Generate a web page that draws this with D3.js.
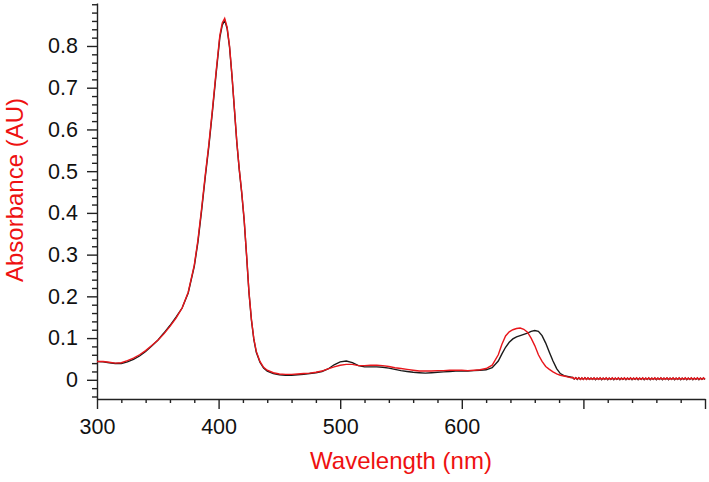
<!DOCTYPE html>
<html>
<head>
<meta charset="utf-8">
<script src="https://cdn.jsdelivr.net/npm/d3@7"></script>
<style>
  body { margin: 0; background: #fff; }
  #chart { width: 709px; height: 482px; }
  text { font-family: Arial, "Liberation Sans", sans-serif; }
</style>
</head>
<body>
<div id="chart"></div>
<script>
// wavelengths (nm) shared by both spectra
var wavelengths = [300,305,310,315,320,325,330,335,340,345,350,355,360,365,370,375,380,383,386,389,
  392,395,398,401,403,405,407,409,411,413,415,417,419,421,423,425,427,429,431,434,
  437,440,445,450,455,460,465,470,475,480,485,490,495,500,505,510,515,520,525,530,
  535,540,545,550,555,560,565,570,575,580,585,590,595,600,605,610,615,620,625,630,
  633,636,639,642,645,648,651,654,657,660,663,666,669,672,675,678,681,684,687,690,
  691.25,692.5,693.75,695,696.25,697.5,698.75,700,701.25,702.5,703.75,705,706.25,707.5,708.75,710,
  711.25,712.5,713.75,715,716.25,717.5,718.75,720,721.25,722.5,723.75,725,726.25,727.5,728.75,730,
  731.25,732.5,733.75,735,736.25,737.5,738.75,740,741.25,742.5,743.75,745,746.25,747.5,748.75,750,
  751.25,752.5,753.75,755,756.25,757.5,758.75,760,761.25,762.5,763.75,765,766.25,767.5,768.75,770,
  771.25,772.5,773.75,775,776.25,777.5,778.75,780,781.25,782.5,783.75,785,786.25,787.5,788.75,790,
  791.25,792.5,793.75,795,796.25,797.5,798.75,800];

// black spectrum
var blackAbs = [0.044,0.043,0.041,0.039,0.039,0.043,0.049,0.057,0.068,0.081,0.095,0.112,0.130,0.150,0.172,0.208,0.272,0.330,0.405,0.485,
  0.560,0.645,0.735,0.820,0.850,0.862,0.842,0.797,0.728,0.648,0.568,0.503,0.448,0.383,0.298,0.208,0.143,0.096,0.066,0.042,
  0.028,0.021,0.015,0.012,0.011,0.011,0.012,0.013,0.015,0.017,0.020,0.026,0.036,0.043,0.045,0.041,0.034,0.031,0.031,0.031,
  0.030,0.028,0.025,0.022,0.020,0.018,0.017,0.016,0.017,0.018,0.019,0.020,0.021,0.021,0.021,0.022,0.023,0.024,0.029,0.045,
  0.062,0.078,0.090,0.098,0.103,0.106,0.109,0.112,0.116,0.118,0.116,0.106,0.088,0.066,0.045,0.027,0.015,0.010,0.008,0.006,
  0.005,0.002,0.005,0.001,0.005,0.001,0.004,0.001,0.005,0.001,0.004,0.001,0.004,0.001,0.004,0.000,
  0.004,0.001,0.004,0.000,0.004,0.001,0.004,0.000,0.004,0.001,0.004,0.000,0.004,0.001,0.004,0.000,
  0.004,0.001,0.004,0.000,0.004,0.001,0.004,0.000,0.004,0.001,0.004,0.000,0.004,0.001,0.004,0.000,
  0.004,0.001,0.004,0.000,0.004,0.001,0.004,0.000,0.004,0.001,0.004,0.000,0.004,0.001,0.004,0.000,
  0.004,0.001,0.004,0.000,0.004,0.001,0.004,0.000,0.004,0.001,0.004,0.000,0.004,0.001,0.004,0.000,
  0.004,0.001,0.004,0.000,0.004,0.001,0.004,0.001];

// red spectrum
var redAbs = [0.044,0.044,0.042,0.040,0.041,0.046,0.052,0.060,0.070,0.082,0.095,0.110,0.128,0.148,0.172,0.210,0.275,0.335,0.410,0.490,
  0.565,0.650,0.740,0.825,0.855,0.866,0.845,0.800,0.730,0.650,0.570,0.505,0.450,0.385,0.300,0.210,0.145,0.098,0.068,0.044,
  0.030,0.023,0.017,0.014,0.013,0.013,0.014,0.015,0.016,0.018,0.021,0.026,0.031,0.035,0.037,0.037,0.034,0.034,0.035,0.035,
  0.034,0.032,0.029,0.027,0.025,0.023,0.021,0.021,0.021,0.022,0.022,0.023,0.023,0.023,0.022,0.023,0.024,0.027,0.035,0.060,
  0.085,0.105,0.115,0.120,0.123,0.124,0.121,0.114,0.100,0.082,0.060,0.044,0.032,0.025,0.019,0.014,0.011,0.009,0.007,0.005,
  0.006,0.002,0.005,0.002,0.005,0.001,0.005,0.001,0.005,0.001,0.005,0.001,0.004,0.001,0.005,0.001,
  0.004,0.001,0.005,0.001,0.004,0.001,0.005,0.001,0.004,0.001,0.005,0.001,0.004,0.001,0.005,0.001,
  0.004,0.001,0.005,0.001,0.004,0.001,0.005,0.001,0.004,0.001,0.005,0.001,0.004,0.001,0.005,0.001,
  0.004,0.001,0.005,0.001,0.004,0.001,0.005,0.001,0.004,0.001,0.005,0.001,0.004,0.001,0.005,0.001,
  0.004,0.001,0.005,0.001,0.004,0.001,0.005,0.001,0.004,0.001,0.005,0.001,0.004,0.001,0.005,0.001,
  0.004,0.001,0.005,0.001,0.004,0.001,0.005,0.001];

var xMajor = [300,400,500,600,700,800];
var xLabels = ["300","400","500","600","",""];
var yMajor = [0,0.1,0.2,0.3,0.4,0.5,0.6,0.7,0.8];
var yLabels = ["0","0.1","0.2","0.3","0.4","0.5","0.6","0.7","0.8"];
var xMinor = [320,340,360,380,420,440,460,480,520,540,560,580,620,640,660,680,720,740,760,780];
var yMinor = [-0.04,-0.02,0.02,0.04,0.06,0.08,0.12,0.14,0.16,0.18,0.22,0.24,0.26,0.28,0.32,0.34,0.36,0.38,
  0.42,0.44,0.46,0.48,0.52,0.54,0.56,0.58,0.62,0.64,0.66,0.68,0.72,0.74,0.76,0.78,0.82,0.84,0.86,0.88,0.9];

var margin = {top: 3, right: 4, bottom: 83, left: 97}
    , width = 709 - margin.left - margin.right
    , height = 482 - margin.top - margin.bottom;

var svg = d3.select("#chart").append("svg")
    .attr("width", 709)
    .attr("height", 482)
    .append("g")
    .attr("transform", "translate(" + margin.left + "," + margin.top + ")");

var xScale = d3.scaleLinear().domain([300, 800]).range([0, width]);
var yScale = d3.scaleLinear().domain([-0.046, 0.903]).range([height, 0]);

// minor ticks first, then major with labels
svg.append("g")
    .attr("transform", "translate(0," + height + ")")
    .call(d3.axisBottom(xScale).tickValues(xMinor).tickSize(4).tickFormat(""))
    .call(function(g){ g.select(".domain").remove(); });

svg.append("g")
    .attr("transform", "translate(0," + height + ")")
    .call(d3.axisBottom(xScale).tickValues(xMajor).tickSize(10).tickSizeOuter(0).tickPadding(10)
        .tickFormat(function(d, i){ return xLabels[i]; }))
    .attr("font-size", 21.5);

svg.append("g")
    .call(d3.axisLeft(yScale).tickValues(yMinor).tickSize(5).tickFormat(""))
    .call(function(g){ g.select(".domain").remove(); });

svg.append("g")
    .call(d3.axisLeft(yScale).tickValues(yMajor).tickSize(10).tickSizeOuter(0).tickPadding(9)
        .tickFormat(function(d, i){ return yLabels[i]; }))
    .attr("font-size", 21.5);

svg.selectAll(".domain, .tick line").attr("stroke", "#222").attr("stroke-width", 1.4);
svg.selectAll(".tick text").attr("fill", "#111").attr("font-family", "Arial, 'Liberation Sans', sans-serif");

var valueLine = function(values){
    return d3.line()
        .x(function(d, i){ return xScale(wavelengths[i]); })
        .y(function(d){ return yScale(d); })
        .curve(d3.curveLinear)(values);
};

svg.append("path")
    .attr("d", valueLine(blackAbs))
    .attr("fill", "none")
    .attr("stroke", "#1a1a1a")
    .attr("stroke-width", 1.4);

svg.append("path")
    .attr("d", valueLine(redAbs))
    .attr("fill", "none")
    .attr("stroke", "#e8161b")
    .attr("stroke-width", 1.4);

svg.append("text")
    .attr("text-anchor", "middle")
    .attr("x", width / 2)
    .attr("y", height + 70)
    .attr("font-size", 24)
    .attr("fill", "#ee1111")
    .text("Wavelength (nm)");

svg.append("text")
    .attr("text-anchor", "middle")
    .attr("transform", "translate(" + (-74) + "," + 187 + ") rotate(-90)")
    .attr("font-size", 24)
    .attr("fill", "#ee1111")
    .text("Absorbance (AU)");
</script>
</body>
</html>
